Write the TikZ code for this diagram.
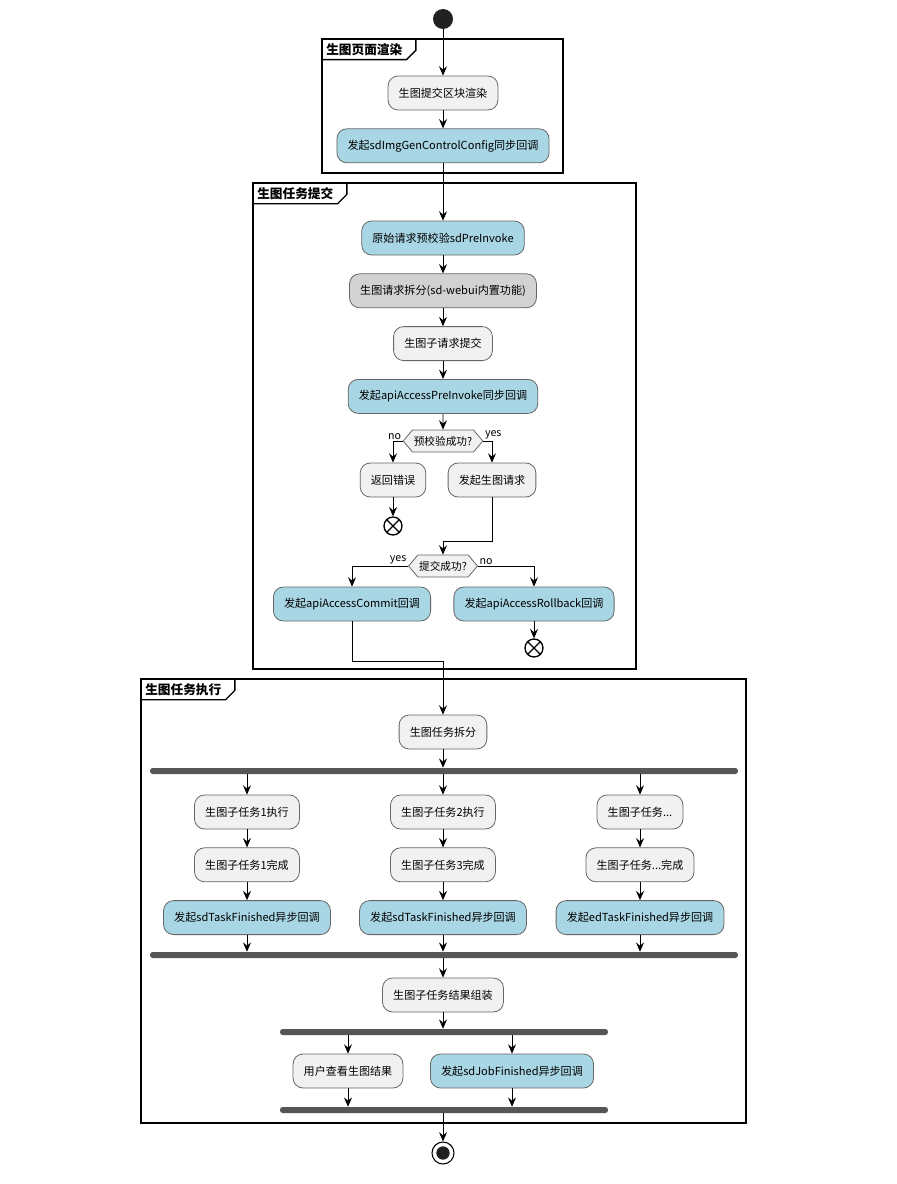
\documentclass[tikz,border=0pt]{standalone}
\usepackage{fontspec}
\setmainfont{Noto Sans CJK SC}
\usepackage{tikz}
\usetikzlibrary{positioning,arrows.meta,shapes.symbols}
\usepackage{xcolor}
\definecolor{actblue}{HTML}{A9D6E4}
\definecolor{actlight}{HTML}{F1F1F1}
\definecolor{actdark}{HTML}{D2D2D2}
\definecolor{barcolor}{HTML}{565656}

\begin{document}
\begin{tikzpicture}[
    x=0.75pt, y=-0.75pt,
    node distance=13.5pt,
    act/.style={rectangle, draw=black!60, fill=actlight, rounded corners=7.5pt, minimum height=25.5pt, inner xsep=8pt, line width=0.6pt, font=\fontsize{8.3}{10}\selectfont},
    actb/.style={act, fill=actblue},
    actg/.style={act, fill=actdark},
    choice/.style={signal, signal to=west and east, signal pointer angle=100, draw=black!60, fill=actlight, line width=0.6pt, minimum height=16.5pt, inner xsep=1pt, inner ysep=1pt, font=\fontsize{8}{9.6}\selectfont},
    syncbar/.style={rectangle, fill=barcolor, rounded corners=2pt, minimum height=4.5pt, inner sep=0pt},
    arrow/.style={-{Stealth[length=7pt,width=6pt,inset=2.5pt]}, line width=0.6pt},
    lbl/.style={font=\fontsize{8}{9.6}\selectfont, inner sep=1pt},
    swimframe/.style={draw, line width=1pt},
    frametab/.style={anchor=north west, inner xsep=3pt, inner ysep=3pt, font=\bfseries\fontsize{9.5}{11}\selectfont},
    startnode/.style={circle, fill=black!87, minimum size=15pt, inner sep=0pt},
    endx/.style={circle, draw, fill=white, line width=1pt, minimum size=13.5pt, inner sep=0pt,
        path picture={\draw[line width=1pt] (path picture bounding box.north east) -- (path picture bounding box.south west)
            (path picture bounding box.north west) -- (path picture bounding box.south east);}},
    finnode/.style={circle, draw, line width=0.8pt, minimum size=16.5pt, inner sep=0pt,
        path picture={\fill[black!87] (path picture bounding box.center) circle (5pt);}},
]
\useasboundingbox[fill=white] (0,0) rectangle (896,1184);

% frames
\draw[swimframe] (322,39) rectangle (563,173);
\node[frametab] (tab1) at (322,39) {生图页面渲染};
\draw[line width=1pt] (tab1.south west) -- (tab1.south east) -- ++(7pt,7pt) |- (tab1.north east);

\draw[swimframe] (253,183) rectangle (636,669);
\node[frametab] (tab2) at (253,183) {生图任务提交};
\draw[line width=1pt] (tab2.south west) -- (tab2.south east) -- ++(7pt,7pt) |- (tab2.north east);

\draw[swimframe] (141,679) rectangle (746,1123);
\node[frametab] (tab3) at (141,679) {生图任务执行};
\draw[line width=1pt] (tab3.south west) -- (tab3.south east) -- ++(7pt,7pt) |- (tab3.north east);

% page rendering
\node[startnode] (start) at (443,19) {};
\node[act] (render) at (443,93) {生图提交区块渲染};
\node[actb, below=of render] (imgcfg) {发起sdImgGenControlConfig同步回调};

% task submit
\node[actb] (preinv) at (443,238) {原始请求预校验sdPreInvoke};
\node[actg, below=of preinv] (split) {生图请求拆分(sd-webui内置功能)};
\node[act, below=of split] (subreq) {生图子请求提交};
\node[actb, below=of subreq] (apipre) {发起apiAccessPreInvoke同步回调};
\node[choice] (chk1) at (443,441) {预校验成功?};
\node[act] (err) at (393,480) {返回错误};
\node[act] (gen) at (492,480) {发起生图请求};
\node[endx] (x1) at (393,526) {};
\node[choice] (chk2) at (443,566) {提交成功?};
\node[actb] (commit) at (352,604) {发起apiAccessCommit回调};
\node[actb] (rollback) at (534,604) {发起apiAccessRollback回调};
\node[endx] (x2) at (534,648) {};

% task execution
\node[act] (tsplit) at (443,732) {生图任务拆分};
\node[syncbar, minimum width=441pt] (fork1) at (444,771) {};

\node[act] (run1) at (247,812) {生图子任务1执行};
\node[act, below=of run1] (done1) {生图子任务1完成};
\node[actb, below=of done1] (cb1) {发起sdTaskFinished异步回调};

\node[act] (run2) at (443,812) {生图子任务2执行};
\node[act, below=of run2] (done2) {生图子任务3完成};
\node[actb, below=of done2] (cb2) {发起sdTaskFinished异步回调};

\node[act] (run3) at (640,812) {生图子任务...};
\node[act, below=of run3] (done3) {生图子任务...完成};
\node[actb, below=of done3] (cb3) {发起edTaskFinished异步回调};

\node[syncbar, minimum width=441pt] (join1) at (444,955) {};
\node[act] (assemble) at (443,995) {生图子任务结果组装};
\node[syncbar, minimum width=246pt] (fork2) at (444,1032) {};
\node[act] (view) at (348,1071) {用户查看生图结果};
\node[actb] (jobcb) at (512,1071) {发起sdJobFinished异步回调};
\node[syncbar, minimum width=246pt] (join2) at (444,1110) {};
\node[finnode] (fin) at (443,1153) {};

% connectors
\draw[arrow] (start) -- (render);
\draw[arrow] (render) -- (imgcfg);
\draw[arrow] (imgcfg) -- (preinv);
\draw[arrow] (preinv) -- (split);
\draw[arrow] (split) -- (subreq);
\draw[arrow] (subreq) -- (apipre);
\draw[arrow] (apipre) -- (chk1);
\draw[arrow] (chk1.west) -| node[pos=0, lbl, above left] {no} (err);
\draw[arrow] (chk1.east) -| node[pos=0, lbl, above right] {yes} (gen);
\draw[arrow] (err) -- (x1);
\draw[arrow] (gen.south) -- ++(0,44) -| (chk2.north);
\draw[arrow] (chk2.west) -| node[pos=0, lbl, above left] {yes} (commit);
\draw[arrow] (chk2.east) -| node[pos=0, lbl, above right] {no} (rollback);
\draw[arrow] (rollback) -- (x2);
\draw[arrow] (commit.south) -- ++(0,40) -| (tsplit.north);

\draw[arrow] (tsplit) -- (tsplit |- fork1.north);
\foreach \c in {1,2,3} {
  \draw[arrow] (fork1.south -| run\c) -- (run\c);
  \draw[arrow] (run\c) -- (done\c);
  \draw[arrow] (done\c) -- (cb\c);
  \draw[arrow] (cb\c) -- (cb\c |- join1.north);
}
\draw[arrow] (join1.south -| assemble) -- (assemble);
\draw[arrow] (assemble) -- (assemble |- fork2.north);
\draw[arrow] (fork2.south -| view) -- (view);
\draw[arrow] (fork2.south -| jobcb) -- (jobcb);
\draw[arrow] (view) -- (view |- join2.north);
\draw[arrow] (jobcb) -- (jobcb |- join2.north);
\draw[arrow] (join2.south -| fin) -- (fin);

\end{tikzpicture}
\end{document}
